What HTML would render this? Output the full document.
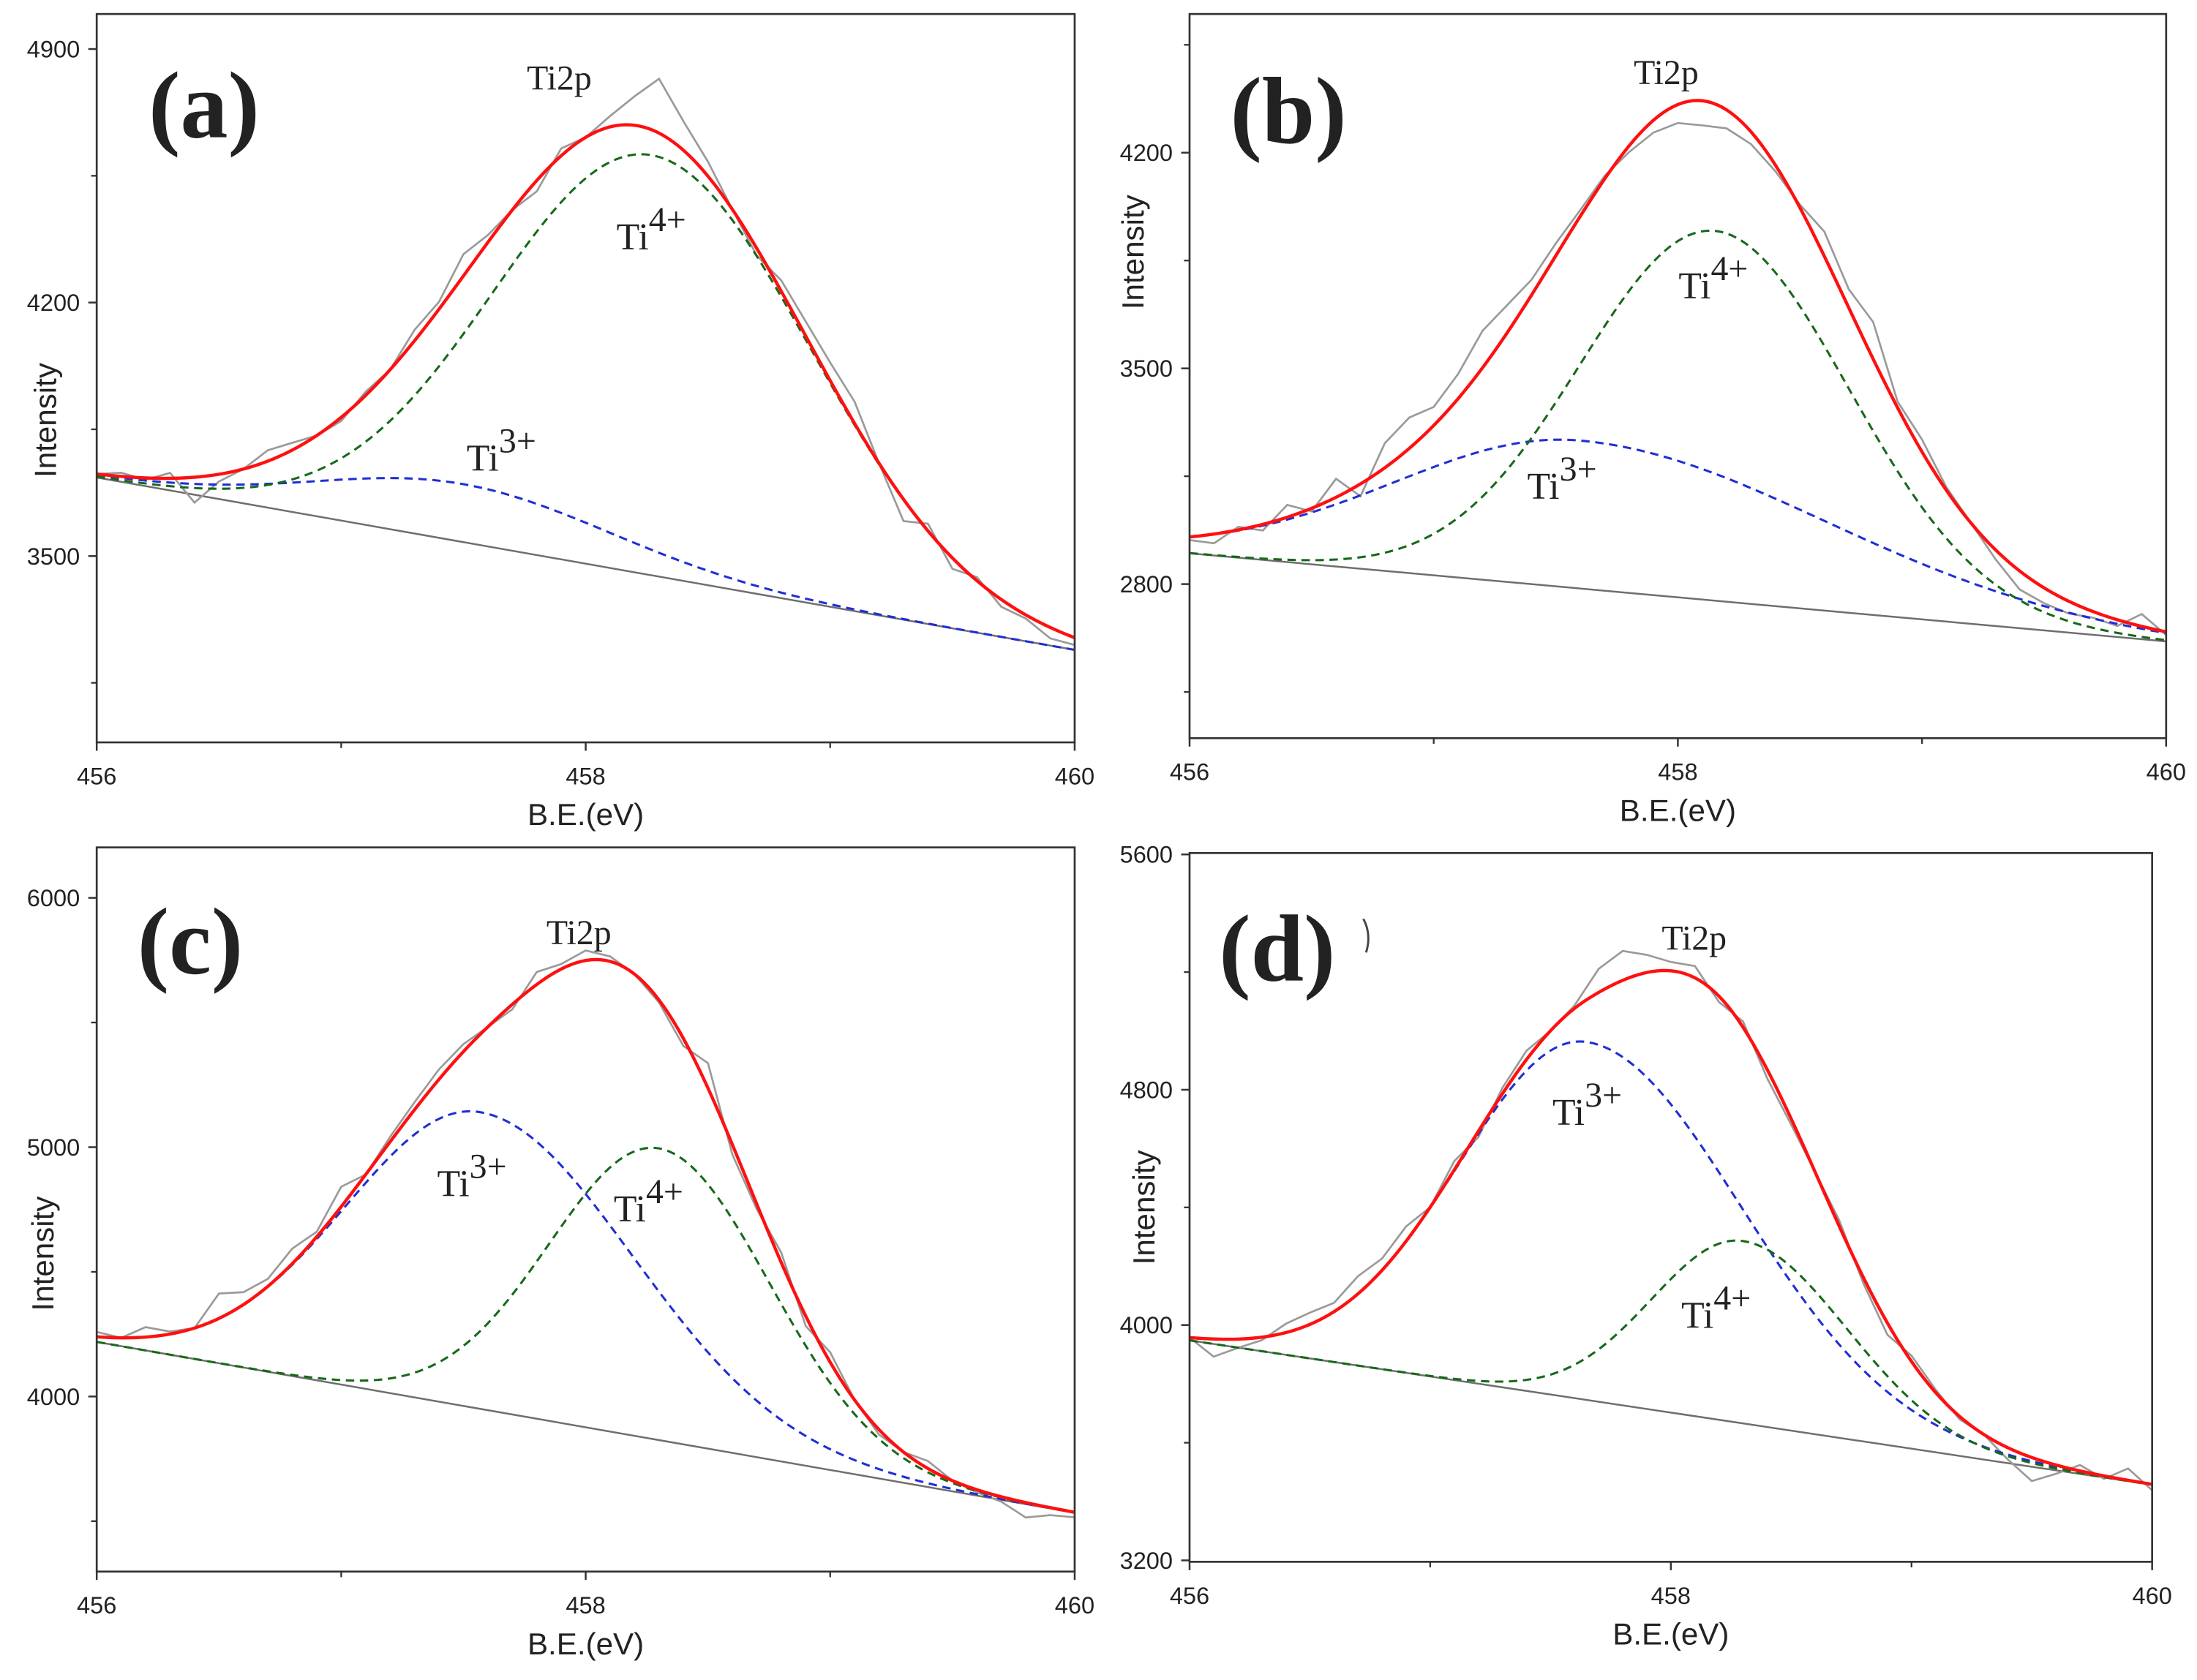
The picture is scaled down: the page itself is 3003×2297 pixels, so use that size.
<!DOCTYPE html>
<html><head><meta charset="utf-8"><title>Ti2p XPS</title>
<style>
html,body{margin:0;padding:0;background:#fff;}
svg{display:block;}
text{font-family:"Liberation Sans",sans-serif;fill:#222;}
.serif{font-family:"Liberation Serif",serif;}
</style></head>
<body>
<svg id="fig" width="3003" height="2297" viewBox="0 0 1568 1199.4" xmlns="http://www.w3.org/2000/svg"></svg>
<script>
// ---- data (binding energy eV, intensity counts) ----
const xTicks=[456,458,460];
const xMinor=[457,459];
// panel a
const bgA=[3717,3241];
const ti4A=[458.27,1160,0.65,0.65];
const ti3A=[457.5,160,0.6,0.6];
const rawOffA=[0,10,-5,15,-70,-20,0,30,20,0,-10,10,0,30,20,60,20,0,-30,20,0,30,80,150,80,40,0,-20,30,40,50,60,0,-60,20,-30,10,-20,-10,-30,-20];
const yTicksA=[3500,4200,4900];
const yMinorA=[3150,3850,4550];
// panel b
const bgB=[2900,2614];
const ti4B=[458.15,1200,0.55,0.55];
const ti3B=[457.6,480,0.76,1.0];
const rawOffB=[-10,-30,10,-20,40,-10,60,-40,80,100,60,80,120,90,50,40,20,10,-20,-40,-60,-80,-60,-40,-20,10,80,60,120,20,40,10,0,-30,-60,-50,-40,-20,-20,40,-10];
const yTicksB=[2800,3500,4200];
const yMinorB=[2450,3150,3850,4550];
// panel c
const bgC=[4219,3534];
const ti4C=[458.3,1170,0.45,0.45];
const ti3C=[457.57,1190,0.55,0.62];
const rawOffC=[20,0,40,10,0,100,50,30,60,20,80,0,20,30,40,30,0,-20,50,20,40,20,0,-10,-30,100,-40,-20,40,-40,40,0,-20,0,30,0,-10,-20,-60,-30,-20];
const yTicksC=[4000,5000,6000];
const yMinorC=[3500,4500,5500];
// panel d
const bgD=[3948,3457];
const ti4D=[458.3,620,0.38,0.43];
const ti3D=[457.65,1217,0.53,0.64];
const rawOffD=[0,-60,-30,-10,30,40,30,60,40,50,0,30,-20,20,30,0,10,80,100,60,30,40,-20,20,-30,-20,0,20,-20,-40,20,10,-10,0,-40,-80,-30,20,-10,40,-20];
const yTicksD=[3200,4000,4800,5600];
const yMinorD=[3600,4400,5200];

const NS="http://www.w3.org/2000/svg";
const svg=document.getElementById('fig');
function mk(tag,attrs,parent){const e=document.createElementNS(NS,tag);for(const k in attrs)e.setAttribute(k,attrs[k]);(parent||svg).appendChild(e);return e;}
function g(p,x){const s=x<p[0]?p[2]:p[3];return p[1]*Math.exp(-(x-p[0])*(x-p[0])/(2*s*s));}
function bgv(b,x){return b[0]+(b[1]-b[0])*(x-456)/4;}

function panel(id,box,yref,bg,t4,t3,off,yt,ym,labels){
  const [x0,x1,top,bot]=box;
  const sx=x=>x0+(x-456)/4*(x1-x0);
  const sy=v=>yref[0]-(v-yref[1])*yref[2];
  const grp=mk('g',{});
  
  
  const clipId='clip'+id;
  const cp=mk('clipPath',{id:clipId},grp);mk('rect',{x:x0,y:top,width:x1-x0,height:bot-top},cp);
  const plot=mk('g',{'clip-path':'url(#'+clipId+')'},grp);
  const bl=mk('line',{x1:sx(456),y1:sy(bg[0]),x2:sx(460),y2:sy(bg[1]),stroke:'#6e6e6e','stroke-width':1.3},plot);
  
  
  let d='';off.forEach((o,i)=>{const x=456+i*0.1;const v=bgv(bg,x)+g(t4,x)+g(t3,x)+o;d+=(i?'L':'M')+sx(x).toFixed(2)+' '+sy(v).toFixed(2);});
  const raw=mk('path',{d:d,fill:'none',stroke:'#9a9a9a','stroke-width':1.4},plot);
  
  
  function curve(fn,attrs,name){let p='';for(let i=0;i<=200;i++){const x=456+i*0.02;p+=(i?'L':'M')+sx(x).toFixed(2)+' '+sy(fn(x)).toFixed(2);}
    const e=mk('path',Object.assign({d:p,fill:'none'},attrs),plot);
    
    }
  curve(x=>bgv(bg,x)+g(t3,x),{stroke:'#1f2fd6','stroke-width':1.6,'stroke-dasharray':'6 4'},'ti3-component-'+id);
  curve(x=>bgv(bg,x)+g(t4,x),{stroke:'#17691a','stroke-width':1.6,'stroke-dasharray':'6 4'},'ti4-component-'+id);
  curve(x=>bgv(bg,x)+g(t3,x)+g(t4,x),{stroke:'#ff1010','stroke-width':2.3},'fit-envelope-'+id);
  const fr=mk('rect',{x:x0,y:top,width:x1-x0,height:bot-top,fill:'none',stroke:'#333','stroke-width':1.4},grp);
  
  
  xTicks.forEach(t=>{mk('line',{x1:sx(t),y1:bot,x2:sx(t),y2:bot+6,stroke:'#333','stroke-width':1.3},grp);
    const tx=mk('text',{x:sx(t),y:bot+30,'font-size':17,'text-anchor':'middle'},grp);tx.textContent=t;
    
    });
  xMinor.forEach(t=>mk('line',{x1:sx(t),y1:bot,x2:sx(t),y2:bot+4,stroke:'#333','stroke-width':1.2},grp));
  yt.forEach(t=>{mk('line',{x1:x0-6,y1:sy(t),x2:x0,y2:sy(t),stroke:'#333','stroke-width':1.3},grp);
    const tx=mk('text',{x:x0-12,y:sy(t)+6,'font-size':17,'text-anchor':'end'},grp);tx.textContent=t;
    
    });
  ym.forEach(t=>{if(sy(t)>top&&sy(t)<bot)mk('line',{x1:x0-4,y1:sy(t),x2:x0,y2:sy(t),stroke:'#333','stroke-width':1.2},grp);});
  const xt=mk('text',{x:(x0+x1)/2,y:bot+59,'font-size':22,'text-anchor':'middle'},grp);xt.textContent='B.E.(eV)';
  
  
  const yl=mk('text',{x:0,y:0,'font-size':22,'text-anchor':'middle',transform:'translate('+labels.yl[0]+' '+labels.yl[1]+') rotate(-90)'},grp);yl.textContent='Intensity';
  
  
  const pl=mk('text',{x:labels.p[0],y:labels.p[1],'font-size':68,'font-weight':'bold',class:'serif',fill:'#000'},grp);pl.textContent='('+id+')';
  
  
  const tp=mk('text',{x:labels.t[0],y:labels.t[1],'font-size':25,class:'serif'},grp);tp.textContent='Ti2p';
  
  
  [['4+',labels.t4,'ti4-label'],['3+',labels.t3,'ti3-label']].forEach(a=>{
    const e=mk('text',{x:a[1][0],y:a[1][1],'font-size':27,class:'serif'},grp);
    
    
    const s1=mk('tspan',{},e);s1.textContent='Ti';
    const s2=mk('tspan',{dy:-13,'font-size':25},e);s2.textContent=a[0];});
}
panel('a',[69,767,10,530],[397,3500,181/700],bgA,ti4A,ti3A,rawOffA,yTicksA,yMinorA,
  {p:[106,98],t:[376,64],t4:[440,178],t3:[333,336],yl:[40,300]});
panel('b',[849,1546,10,527],[417,2800,154/700],bgB,ti4B,ti3B,rawOffB,yTicksB,yMinorB,
  {p:[878,102],t:[1166,60],t4:[1198,213],t3:[1090,356],yl:[816,180]});
panel('c',[69,767,605,1122],[997,4000,178/1000],bgC,ti4C,ti3C,rawOffC,yTicksC,yMinorC,
  {p:[98,695],t:[390,674],t4:[438,872],t3:[312,854],yl:[38,895]});
panel('d',[849,1536,609,1115],[946,4000,168/800],bgD,ti4D,ti3D,rawOffD,yTicksD,yMinorD,
  {p:[870,700],t:[1186,678],t4:[1200,948],t3:[1108,803],yl:[824,862]});
const stray=mk('path',{d:'M973 656 Q979 667 975 680',fill:'none',stroke:'#444','stroke-width':1.5});


</script>
</body></html>
